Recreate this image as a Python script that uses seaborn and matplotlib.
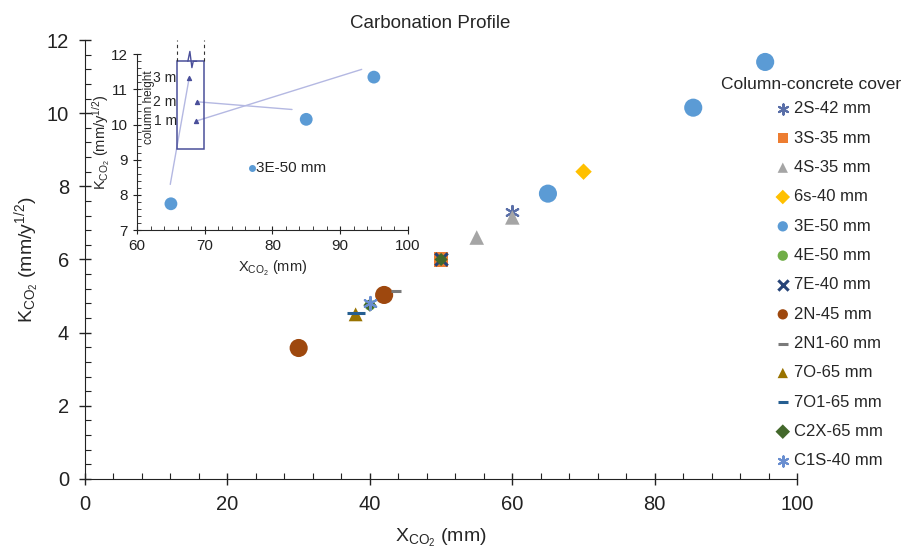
import matplotlib
matplotlib.use("Agg")
import matplotlib.pyplot as plt
import seaborn as sns
from matplotlib.ticker import MultipleLocator
from matplotlib.patches import Rectangle

# series shown in the main plot: name, x (mm), K (mm/y^0.5)
series = [
    "2S-42 mm", "3S-35 mm", "4S-35 mm", "6s-40 mm", "3E-50 mm", "4E-50 mm",
    "7E-40 mm", "2N-45 mm", "2N1-60 mm", "7O-65 mm", "7O1-65 mm",
    "C2X-65 mm", "C1S-40 mm",
]
x_vals = {
    "2S-42 mm": [60], "3S-35 mm": [50], "4S-35 mm": [55, 60],
    "6s-40 mm": [70], "3E-50 mm": [65, 85.4, 95.5], "4E-50 mm": [40],
    "7E-40 mm": [50], "2N-45 mm": [30, 42], "2N1-60 mm": [43.7],
    "7O-65 mm": [38], "7O1-65 mm": [38], "C2X-65 mm": [40, 50],
    "C1S-40 mm": [40],
}
k_vals = {
    "2S-42 mm": [7.3], "3S-35 mm": [6.0], "4S-35 mm": [6.6, 7.15],
    "6s-40 mm": [8.4], "3E-50 mm": [7.8, 10.15, 11.4], "4E-50 mm": [4.75],
    "7E-40 mm": [6.0], "2N-45 mm": [3.58, 5.03], "2N1-60 mm": [5.15],
    "7O-65 mm": [4.5], "7O1-65 mm": [4.55], "C2X-65 mm": [4.75, 6.0],
    "C1S-40 mm": [4.8],
}
colors = {
    "2S-42 mm": "#5a6fa8", "3S-35 mm": "#ed7d31", "4S-35 mm": "#a5a5a5",
    "6s-40 mm": "#ffc000", "3E-50 mm": "#5b9bd5", "4E-50 mm": "#70ad47",
    "7E-40 mm": "#264478", "2N-45 mm": "#9e480e", "2N1-60 mm": "#7a7a7a",
    "7O-65 mm": "#997300", "7O1-65 mm": "#255e91", "C2X-65 mm": "#43682b",
    "C1S-40 mm": "#698ed0",
}
markers = {
    "2S-42 mm": (6, 2, 0), "3S-35 mm": "s", "4S-35 mm": "^", "6s-40 mm": "D",
    "3E-50 mm": "o", "4E-50 mm": "o", "7E-40 mm": "x", "2N-45 mm": "o",
    "2N1-60 mm": "_", "7O-65 mm": "^", "7O1-65 mm": "_", "C2X-65 mm": "D",
    "C1S-40 mm": (6, 2, 0),
}
sizes = {
    "2S-42 mm": 90, "3S-35 mm": 110, "4S-35 mm": 110, "6s-40 mm": 70,
    "3E-50 mm": 170, "4E-50 mm": 60, "7E-40 mm": 80, "2N-45 mm": 170,
    "2N1-60 mm": 60, "7O-65 mm": 100, "7O1-65 mm": 150, "C2X-65 mm": 45,
    "C1S-40 mm": 90,
}

# inset (3E-50 mm only)
inset_x = [65, 85, 95]
inset_k = [7.75, 10.15, 11.35]
height_labels = ["3 m", "2 m", "1 m"]
height_x = [67.7, 68.8, 68.7]
height_k = [11.33, 10.65, 10.1]
link_x = [64.9, 82.9, 93.2]
link_k = [8.3, 10.43, 11.57]

sns.set_style("ticks")
plt.rcParams["font.family"] = ["Liberation Sans", "DejaVu Sans"]
plt.rcParams["mathtext.default"] = "regular"

fig = plt.figure(figsize=(9.08, 5.48), dpi=100)
ax = fig.add_axes([0.0936, 0.126, 0.7844, 0.801])

for name in series:
    m = markers[name]
    lw = 2.2 if m in ("x", "_") else 1.5
    line_like = m in ("x", "_") or isinstance(m, tuple)
    sns.scatterplot(
        x=x_vals[name], y=k_vals[name], ax=ax, marker=m, s=sizes[name],
        color=colors[name], edgecolor=colors[name] if line_like else "none",
        linewidth=lw, label=name, zorder=3,
    )

ax.set_xlim(0, 100)
ax.set_ylim(0, 12)
ax.xaxis.set_major_locator(MultipleLocator(20))
ax.xaxis.set_minor_locator(MultipleLocator(4))
ax.yaxis.set_major_locator(MultipleLocator(2))
ax.yaxis.set_minor_locator(MultipleLocator(0.4))
ax.tick_params(which="major", direction="inout", length=9, width=1, labelsize=14.5,
               colors="#222222", pad=7)
ax.tick_params(which="minor", direction="in", length=4, width=0.8, colors="#222222")
for sp in ["top", "right"]:
    ax.spines[sp].set_visible(False)
for sp in ["left", "bottom"]:
    ax.spines[sp].set_color("#222222")
ax.set_xlabel(r"X$_{CO_2}$ (mm)", fontsize=14, labelpad=9)
ax.set_ylabel(r"K$_{CO_2}$ (mm/y$^{1/2}$)", fontsize=14, labelpad=4)
fig.text(0.474, 0.958, "Carbonation Profile", ha="center", va="center", fontsize=13.5)

# legend: title placed separately so entries sit to the right like the original
fig.text(0.893, 0.845, "Column-concrete cover", ha="center", va="center", fontsize=12.5)
leg = ax.legend(
    loc="upper left", bbox_to_anchor=(0.852, 0.815), bbox_transform=fig.transFigure,
    frameon=False, fontsize=12, labelspacing=0.86,
    handletextpad=0.1, handlelength=1.1, borderaxespad=0, borderpad=0,
)
for h in leg.legend_handles:
    h.set_sizes([55])

# inset
ia = fig.add_axes([0.151, 0.580, 0.298, 0.321])
sns.scatterplot(x=inset_x, y=inset_k, ax=ia, color="#5b9bd5", s=85, edgecolor="none", zorder=3)
ia.set_xlim(60, 100)
ia.set_ylim(7, 12)
ia.xaxis.set_major_locator(MultipleLocator(10))
ia.xaxis.set_minor_locator(MultipleLocator(2))
ia.yaxis.set_major_locator(MultipleLocator(1))
ia.yaxis.set_minor_locator(MultipleLocator(0.2))
ia.tick_params(which="major", direction="inout", length=6, width=0.8, labelsize=11, colors="#222222")
ia.tick_params(which="minor", direction="in", length=3, width=0.6, colors="#222222")
ia.patch.set_alpha(0)
for sp in ["top", "right"]:
    ia.spines[sp].set_visible(False)
ia.set_xlabel(r"X$_{CO_2}$ (mm)", fontsize=10.5, labelpad=4)
ia.set_ylabel(r"K$_{CO_2}$ (mm/y$^{1/2}$)", fontsize=10.5, labelpad=-1)

# column schematic
col = "#4a4f9a"
ia.add_patch(Rectangle((65.9, 9.31), 4.0, 2.49, fill=False, edgecolor=col, lw=1.1, zorder=2))
ia.plot([65.9, 65.9], [11.8, 12.4], ls=(0, (3, 3)), color="#333333", lw=0.8, clip_on=False)
ia.plot([69.9, 69.9], [11.8, 12.4], ls=(0, (3, 3)), color="#333333", lw=0.8, clip_on=False)
ia.plot([67.5, 67.8, 68.1, 68.3, 68.8], [11.8, 12.08, 11.62, 11.8, 11.8], color=col, lw=1.0, clip_on=False, zorder=3)
for xs, ks, lx, lk, lab in zip(height_x, height_k, link_x, link_k, height_labels):
    ia.plot([lx, xs], [lk, ks], color="#b4b8e2", lw=1.0, zorder=1)
    ia.scatter([xs], [ks], marker="^", s=8, color="#4a4f9a", zorder=4)
    ia.text(65.85, ks, lab, ha="right", va="center", fontsize=10)
ia.text(61.8, 10.5, "column height", rotation=90, ha="center", va="center", fontsize=8.5)
ia.scatter([77.0], [8.78], s=16, color="#5b9bd5", zorder=4)
ia.text(77.6, 8.78, "3E-50 mm", ha="left", va="center", fontsize=11)

fig.savefig("out.png", dpi=100)
